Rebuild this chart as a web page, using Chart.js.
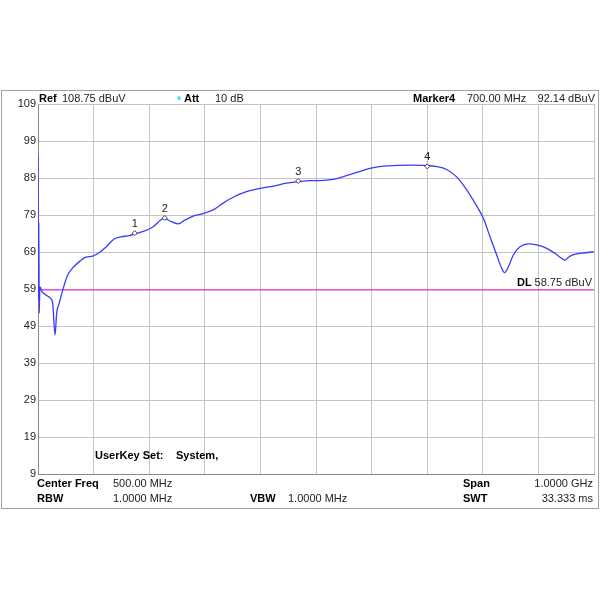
<!DOCTYPE html>
<html>
<head>
<meta charset="utf-8">
<script src="https://cdn.jsdelivr.net/npm/chart.js@4"></script>
<style>
  html, body { margin: 0; padding: 0; background: #fff; }
  canvas { display: block; }
</style>
</head>
<body>
<canvas id="spectrum" width="600" height="600"></canvas>
<script>
// Trace (frequency in MHz, level in dBuV)
const freqMHz = [0, 1, 1.5, 2.2, 3, 3.6, 7.2, 14.4, 21.6, 26.4, 30.6, 33.6, 38.3, 44.4, 53.4, 62.4,
  74.3, 86.3, 98.4, 110, 122, 137, 149, 164, 173, 188, 206, 227, 240, 252, 264, 279, 297, 315,
  333, 351, 375, 399, 423, 447, 468, 489, 507, 531, 549, 573, 597, 621, 645, 669, 696, 717, 735,
  753, 771, 786, 801, 813, 825, 834, 839, 846, 855, 867, 882, 897, 915, 930, 939, 948, 954, 966,
  984, 1000];
const levelDbuv = [95, 56, 77, 52.5, 58, 59.6, 58.3, 57.4, 56.6, 55.2, 46.6, 52.5, 55.2, 58.7, 62.8, 64.7,
  66.4, 67.6, 67.9, 68.8, 70.3, 72.5, 73.1, 73.4, 73.8, 74.5, 75.7, 78.1, 77.2, 76.6, 77.6, 78.7, 79.4, 80.4,
  82.2, 83.8, 85.3, 86.2, 86.8, 87.6, 88.0, 88.3, 88.3, 88.6, 89.4, 90.5, 91.6, 92.2, 92.4, 92.5, 92.4, 92.1, 91.3,
  89.3, 85.8, 82.2, 78.1, 73.1, 68.2, 64.6, 63.4, 65.0, 68.2, 70.4, 71.2, 70.9, 70.0, 68.6, 67.6, 66.8, 67.6, 68.4,
  68.8, 69.1];

// Markers 1..4
const markerLabels = ['1', '2', '3', '4'];
const markerFreq = [174, 228, 468, 700];
const markerLevel = [74.1, 78.2, 88.2, 92.14];

// Display line
const dlLevel = 58.75;
const spanMHz = [0, 1000];

// Y tick labels
const yTickValues = [9, 19, 29, 39, 49, 59, 69, 79, 89, 99, 109];

const FONT = '"Liberation Sans", Arial, sans-serif';

// Draw the instrument text, frame and marker numbers
const screenText = {
  id: 'screenText',
  afterDraw(chart) {
    const ctx = chart.ctx;
    const xs = chart.scales.x;
    const ys = chart.scales.y;
    ctx.save();

    // outer frame
    ctx.strokeStyle = '#a0a0a0';
    ctx.lineWidth = 1;
    ctx.strokeRect(1.5, 90.5, 597, 418);

    function txt(s, x, y, bold, align, color) {
      ctx.font = (bold ? 'bold ' : '') + '11px ' + FONT;
      ctx.textAlign = align || 'left';
      ctx.textBaseline = 'alphabetic';
      ctx.fillStyle = color || '#000';
      ctx.fillText(s, x, y);
    }

    // header
    txt('Ref', 39, 102, true);
    txt('108.75 dBuV', 62, 102, false, 'left', '#222');
    txt('*', 177, 104, true, 'left', '#33dddd');
    txt('Att', 184, 102, true);
    txt('10 dB', 215, 102, false, 'left', '#222');
    txt('Marker4', 413, 102, true);
    txt('700.00 MHz', 467, 102, false, 'left', '#222');
    txt('92.14 dBuV', 595, 102, false, 'right', '#222');

    // inside the grid
    txt('UserKey Set:', 95, 459, true);
    txt('System,', 176, 459, true);
    txt('DL', 517, 286, true);
    txt('58.75 dBuV', 592, 286, false, 'right', '#222');

    // footer
    txt('Center Freq', 37, 487, true);
    txt('500.00 MHz', 113, 487, false, 'left', '#222');
    txt('RBW', 37, 502, true);
    txt('1.0000 MHz', 113, 502, false, 'left', '#222');
    txt('VBW', 250, 502, true);
    txt('1.0000 MHz', 288, 502, false, 'left', '#222');
    txt('Span', 463, 487, true);
    txt('1.0000 GHz', 593, 487, false, 'right', '#222');
    txt('SWT', 463, 502, true);
    txt('33.333 ms', 593, 502, false, 'right', '#222');

    // marker numbers
    markerLabels.forEach((m, i) => {
      const px = xs.getPixelForValue(markerFreq[i]);
      const py = ys.getPixelForValue(markerLevel[i]);
      txt(m, px, py - 6, false, 'center', '#222');
    });

    ctx.restore();
  }
};

new Chart(document.getElementById('spectrum'), {
  type: 'scatter',
  data: {
    datasets: [
      {
        label: 'DL',
        data: spanMHz.map(f => ({ x: f, y: dlLevel })),
        showLine: true,
        borderColor: '#e010e0',
        borderWidth: 1,
        pointRadius: 0,
        order: 3
      },
      {
        label: 'Trace',
        data: freqMHz.map((f, i) => ({ x: f, y: levelDbuv[i] })),
        showLine: true,
        borderColor: '#3a3aff',
        borderWidth: 1.3,
        pointRadius: 0,
        cubicInterpolationMode: 'monotone',
        order: 2
      },
      {
        label: 'Markers',
        data: markerFreq.map((f, i) => ({ x: f, y: markerLevel[i] })),
        pointStyle: 'rectRot',
        pointRadius: 2.5,
        backgroundColor: '#ffffff',
        borderColor: '#444',
        borderWidth: 1,
        order: 1
      }
    ]
  },
  options: {
    responsive: false,
    animation: false,
    layout: { padding: { left: 0, top: 104, right: 6, bottom: 126 } },
    plugins: {
      legend: { display: false },
      tooltip: { enabled: false }
    },
    scales: {
      x: {
        type: 'linear',
        min: 0,
        max: 1000,
        ticks: { display: false, stepSize: 100 },
        grid: { color: '#c4c4c4', drawTicks: false },
        border: { color: '#8a8a8a' },
        afterFit(scale) { scale.height = 0; }
      },
      y: {
        min: 9,
        max: 109,
        afterBuildTicks(scale) { scale.ticks = yTickValues.map(v => ({ value: v })); },
        ticks: {
          padding: 2,
          color: '#222',
          font: { family: FONT, size: 11 }
        },
        grid: { color: '#c4c4c4', drawTicks: false },
        border: { color: '#8a8a8a' },
        afterFit(scale) { scale.width = 38; }
      }
    }
  },
  plugins: [screenText]
});
</script>
</body>
</html>
